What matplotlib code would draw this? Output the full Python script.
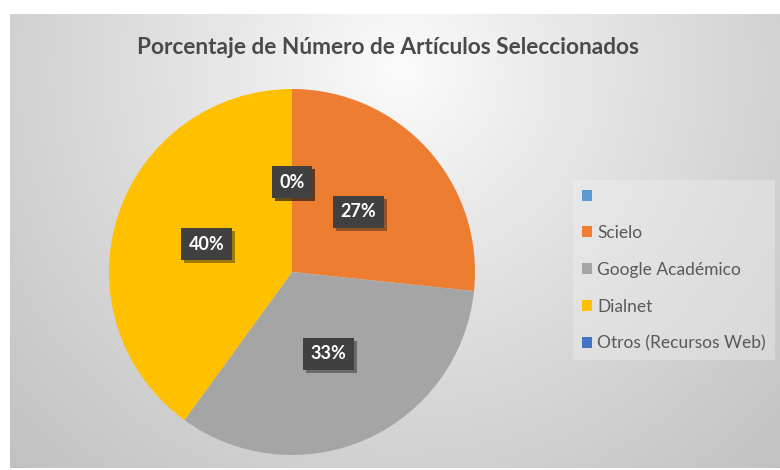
import numpy as np
import matplotlib
matplotlib.use("Agg")
import matplotlib.pyplot as plt
import matplotlib.patheffects as pe

categories = ['', 'Scielo', 'Google Académico', 'Dialnet', 'Otros (Recursos Web)']
values = [0, 4, 5, 6, 0]
colors = ['#5B9BD5', '#ED7D31', '#A5A5A5', '#FFC000', '#4472C4']
title = 'Porcentaje de Número de Artículos Seleccionados'

W, H = 780, 470
plt.rcParams['font.family'] = ['Lato', 'DejaVu Sans']
fig = plt.figure(figsize=(W / 100, H / 100), dpi=100)
fig.patch.set_facecolor('white')

# background radial gradient (chart area)
bx0, by0, bx1, by1 = 10, 14, 780, 468  # pixel coords from top-left
bg = fig.add_axes([bx0 / W, 1 - by1 / H, (bx1 - bx0) / W, (by1 - by0) / H])
yy, xx = np.mgrid[by0:by1, bx0:bx1]
d = np.sqrt(((xx - 400) / 1.0) ** 2 + ((yy - 70) / 1.0) ** 2) / 545.0
v = 252 - 58 * np.clip(d, 0, 1.2) ** 0.9
img = np.clip(v, 0, 255) / 255.0
bg.imshow(np.dstack([img, img, img]), aspect='auto', extent=[0, 1, 0, 1], origin='upper')
bg.set_axis_off()

# pie axes
cx, cy, r = 292, 272, 183
ax = fig.add_axes([(cx - r) / W, (H - cy - r) / H, 2 * r / W, 2 * r / H])
wedges, texts, autotexts = ax.pie(values, colors=colors, startangle=90, counterclock=False,
                                  autopct='%1.0f%%', pctdistance=0.49,
                                  wedgeprops=dict(linewidth=0),
                                  textprops=dict(color='white', fontsize=13, fontweight='bold'))
ax.set_xlim(-1, 1)
ax.set_ylim(-1, 1)
ax.set_aspect('equal')
ax.set_axis_off()
for t in autotexts:
    t.set_bbox(dict(boxstyle='square,pad=0.42', facecolor='#404040', edgecolor='none'))
    t.get_bbox_patch().set_path_effects([pe.SimplePatchShadow(offset=(2, -2), alpha=0.4), pe.Normal()])

fig.text(388 / W, 1 - 47 / H, title, ha='center', va='center', fontsize=16.3,
         fontweight='bold', color='#4a4a4a')

leg = fig.legend(wedges, categories, loc='center left', bbox_to_anchor=(573 / W, 1 - 270 / H),
                 frameon=True, fontsize=12.5, labelspacing=1.2, handlelength=0.6,
                 handleheight=0.6, handletextpad=0.3, borderpad=0.5, borderaxespad=0,
                 fancybox=False)
leg.get_frame().set_facecolor('#f0f0f0')
leg.get_frame().set_alpha(0.4)
leg.get_frame().set_edgecolor('none')
for t in leg.get_texts():
    t.set_color('#595959')

fig.savefig('out.png', dpi=100, facecolor='white')
